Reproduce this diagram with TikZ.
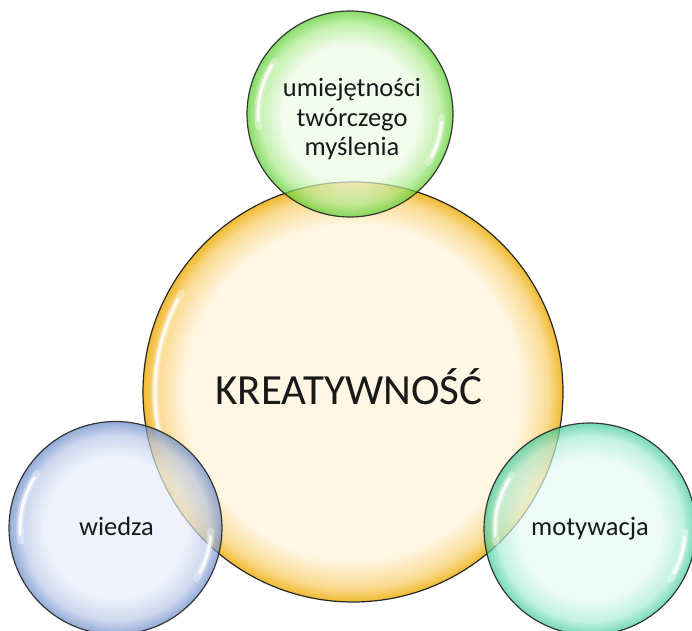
\documentclass[tikz,border=0pt]{standalone}
\usepackage{fontspec}
\setmainfont{Carlito}
\definecolor{yin}{HTML}{FFF6E3}
\definecolor{ymid}{HTML}{FADB92}
\definecolor{yout}{HTML}{F0BA30}
\definecolor{gin}{HTML}{EDFBE6}
\definecolor{gmid}{HTML}{ACEA8C}
\definecolor{gout}{HTML}{55CC28}
\definecolor{bin}{HTML}{E8EDF8}
\definecolor{bmid}{HTML}{B8C7E8}
\definecolor{bout}{HTML}{6587C6}
\definecolor{tin}{HTML}{E6FAF3}
\definecolor{tmid}{HTML}{A9ECD7}
\definecolor{tout}{HTML}{3CC898}
\pgfdeclareradialshading{ybub}{\pgfpoint{0bp}{0bp}}{color(0bp)=(yin); color(20bp)=(yin); color(23.3bp)=(ymid); color(25bp)=(yout); color(50bp)=(yout)}
\pgfdeclareradialshading{gbub}{\pgfpoint{0bp}{0bp}}{color(0bp)=(gin); color(16.5bp)=(gin); color(21.8bp)=(gmid); color(25bp)=(gout); color(50bp)=(gout)}
\pgfdeclareradialshading{bbub}{\pgfpoint{0bp}{0bp}}{color(0bp)=(bin); color(16.5bp)=(bin); color(21.8bp)=(bmid); color(25bp)=(bout); color(50bp)=(bout)}
\pgfdeclareradialshading{tbub}{\pgfpoint{0bp}{0bp}}{color(0bp)=(tin); color(16.5bp)=(tin); color(21.8bp)=(tmid); color(25bp)=(tout); color(50bp)=(tout)}
\tikzset{
  bubble/.style={circle, inner sep=0pt, draw=black!85, line width=1.2pt},
  smallbub/.style={bubble, fill opacity=0.7, draw opacity=0.9},
  glow/.style={white, line width=7pt, line cap=round, opacity=0.35},
  shine/.style={white, line width=3pt, line cap=round, opacity=0.85},
  label/.style={font=\fontsize{26.5}{29.5}\selectfont, text=black!90, inner sep=0pt},
}
\begin{document}
\begin{tikzpicture}[x=1pt,y=1pt]
\useasboundingbox (0,0) rectangle (692,630);
% main circle
\node[bubble, shading=ybub, minimum size=420pt] (Y) at (353,238) {};
\draw[glow]  (Y.center) ++(150:198) arc[start angle=150, end angle=195, radius=198];
\draw[shine] (Y.center) ++(152:198) arc[start angle=152, end angle=192, radius=198];
% small circles
\node[smallbub, shading=gbub, minimum size=206pt] (G) at (350,516) {};
\node[smallbub, shading=bbub, minimum size=213pt] (B) at (115.5,102) {};
\node[smallbub, shading=tbub, minimum size=212pt] (T) at (590,101) {};
% highlights
\foreach \c/\r in {G/103, B/106.5, T/106}{
  \draw[glow]  (\c.center) ++(145:{\r-11}) arc[start angle=145, end angle=188, radius={\r-11}];
  \draw[shine] (\c.center) ++(148:{\r-11}) arc[start angle=148, end angle=184, radius={\r-11}];
  \draw[glow]  (\c.center) ++(-2:{\r-11}) arc[start angle=-2, end angle=-32, radius={\r-11}];
  \draw[shine] (\c.center) ++(-5:{\r-11}) arc[start angle=-5, end angle=-28, radius={\r-11}];
}
% texts
\node[font=\fontsize{43}{48}\selectfont, text=black!90, inner sep=0pt, anchor=base] (tk) at (349,226) {KREATYWNOŚĆ};
\node[label, anchor=base] (tu) at (352,533) {umiejętności};
\node[label, anchor=base] (tt) at (352,503.5) {twórczego};
\node[label, anchor=base] (tm) at (352,474) {myślenia};
\node[label, anchor=base] (tw) at (116.5,95) {wiedza};
\node[label, anchor=base] (tmo) at (590,95) {motywacja};
\end{tikzpicture}
\end{document}
